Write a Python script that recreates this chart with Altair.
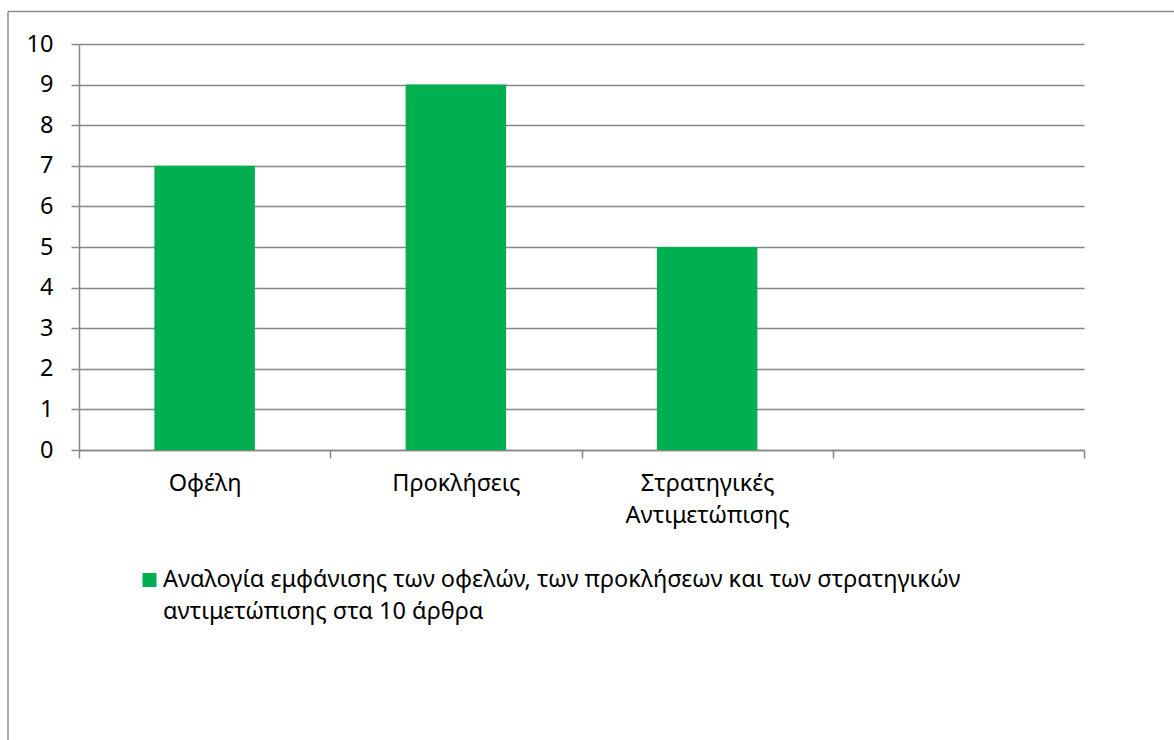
import altair as alt
import pandas as pd

categories = ["Οφέλη", "Προκλήσεις", "Στρατηγικές Αντιμετώπισης", " "]
values = [7, 9, 5, None]
series_name = "Αναλογία εμφάνισης των οφελών, των προκλήσεων και των στρατηγικών αντιμετώπισης στα 10 άρθρα"
legend_lines = ["Αναλογία εμφάνισης των οφελών, των προκλήσεων και των στρατηγικών", "αντιμετώπισης στα 10 άρθρα"]
y_ticks = list(range(0, 11))

df = pd.DataFrame({"category": categories, "value": values, "series": [series_name] * len(categories)})

FONT = "Noto Sans"
FS = 23.5
GRID = "#868686"
GREEN = "#00B050"
W, H = 1005, 406
PL, PT = 79, 44

bars = alt.Chart(df).mark_bar(width={"band": 0.4}).encode(
    x=alt.X(
        "category:N",
        sort=categories,
        scale=alt.Scale(domain=categories, paddingInner=0, paddingOuter=0),
        axis=alt.Axis(
            title=None, labelAngle=0, tickBand="extent", grid=False,
            labelExpr="split(datum.label, ' ')", labelLineHeight=32,
            labelFontSize=FS, labelFont=FONT, labelColor="#000000",
            labelPadding=13, tickSize=8, tickColor=GRID, tickWidth=1.5,
            domainColor=GRID, domainWidth=1.5,
        ),
    ),
    y=alt.Y(
        "value:Q",
        scale=alt.Scale(domain=[0, 10], nice=False),
        axis=alt.Axis(
            title=None, values=y_ticks, grid=True, gridColor=GRID, gridWidth=1.5,
            labelFontSize=FS, labelFont=FONT, labelColor="#000000", labelPadding=18,
            tickSize=8, tickColor=GRID, tickWidth=1.5, domainColor=GRID, domainWidth=1.5,
        ),
    ),
    color=alt.Color("series:N", scale=alt.Scale(range=[GREEN]), legend=None),
)

one = alt.Data(values=[{"a": 1}])

legend_symbol = alt.Chart(one).mark_square(size=196, color=GREEN, opacity=1).encode(
    x=alt.value(70.5), y=alt.value(536)
)
legend_text = alt.Chart(one).mark_text(
    align="left", baseline="alphabetic", fontSize=FS, font=FONT, color="#000000", lineHeight=32
).encode(x=alt.value(84), y=alt.value(543), text=alt.value(legend_lines))

border = alt.Chart(one).mark_rule(color="#8c8c8c", strokeWidth=1.5).encode(
    x=alt.value(-71), x2=alt.value(-71), y=alt.value(-32.5), y2=alt.value(740 - PT)
)
border_top = alt.Chart(one).mark_rule(color="#8c8c8c", strokeWidth=1.5).encode(
    x=alt.value(-71), x2=alt.value(1174 - PL), y=alt.value(-32.5), y2=alt.value(-32.5)
)

chart = alt.layer(bars, legend_symbol, legend_text, border, border_top).properties(
    width=W, height=H,
    autosize=alt.AutoSizeParams(type="none"),
    padding={"left": PL, "top": PT, "right": 1174 - PL - W, "bottom": 740 - PT - H},
    background="white",
).configure_view(stroke=None)

chart.save("out.html", embed_options={"renderer": "svg", "actions": False})
